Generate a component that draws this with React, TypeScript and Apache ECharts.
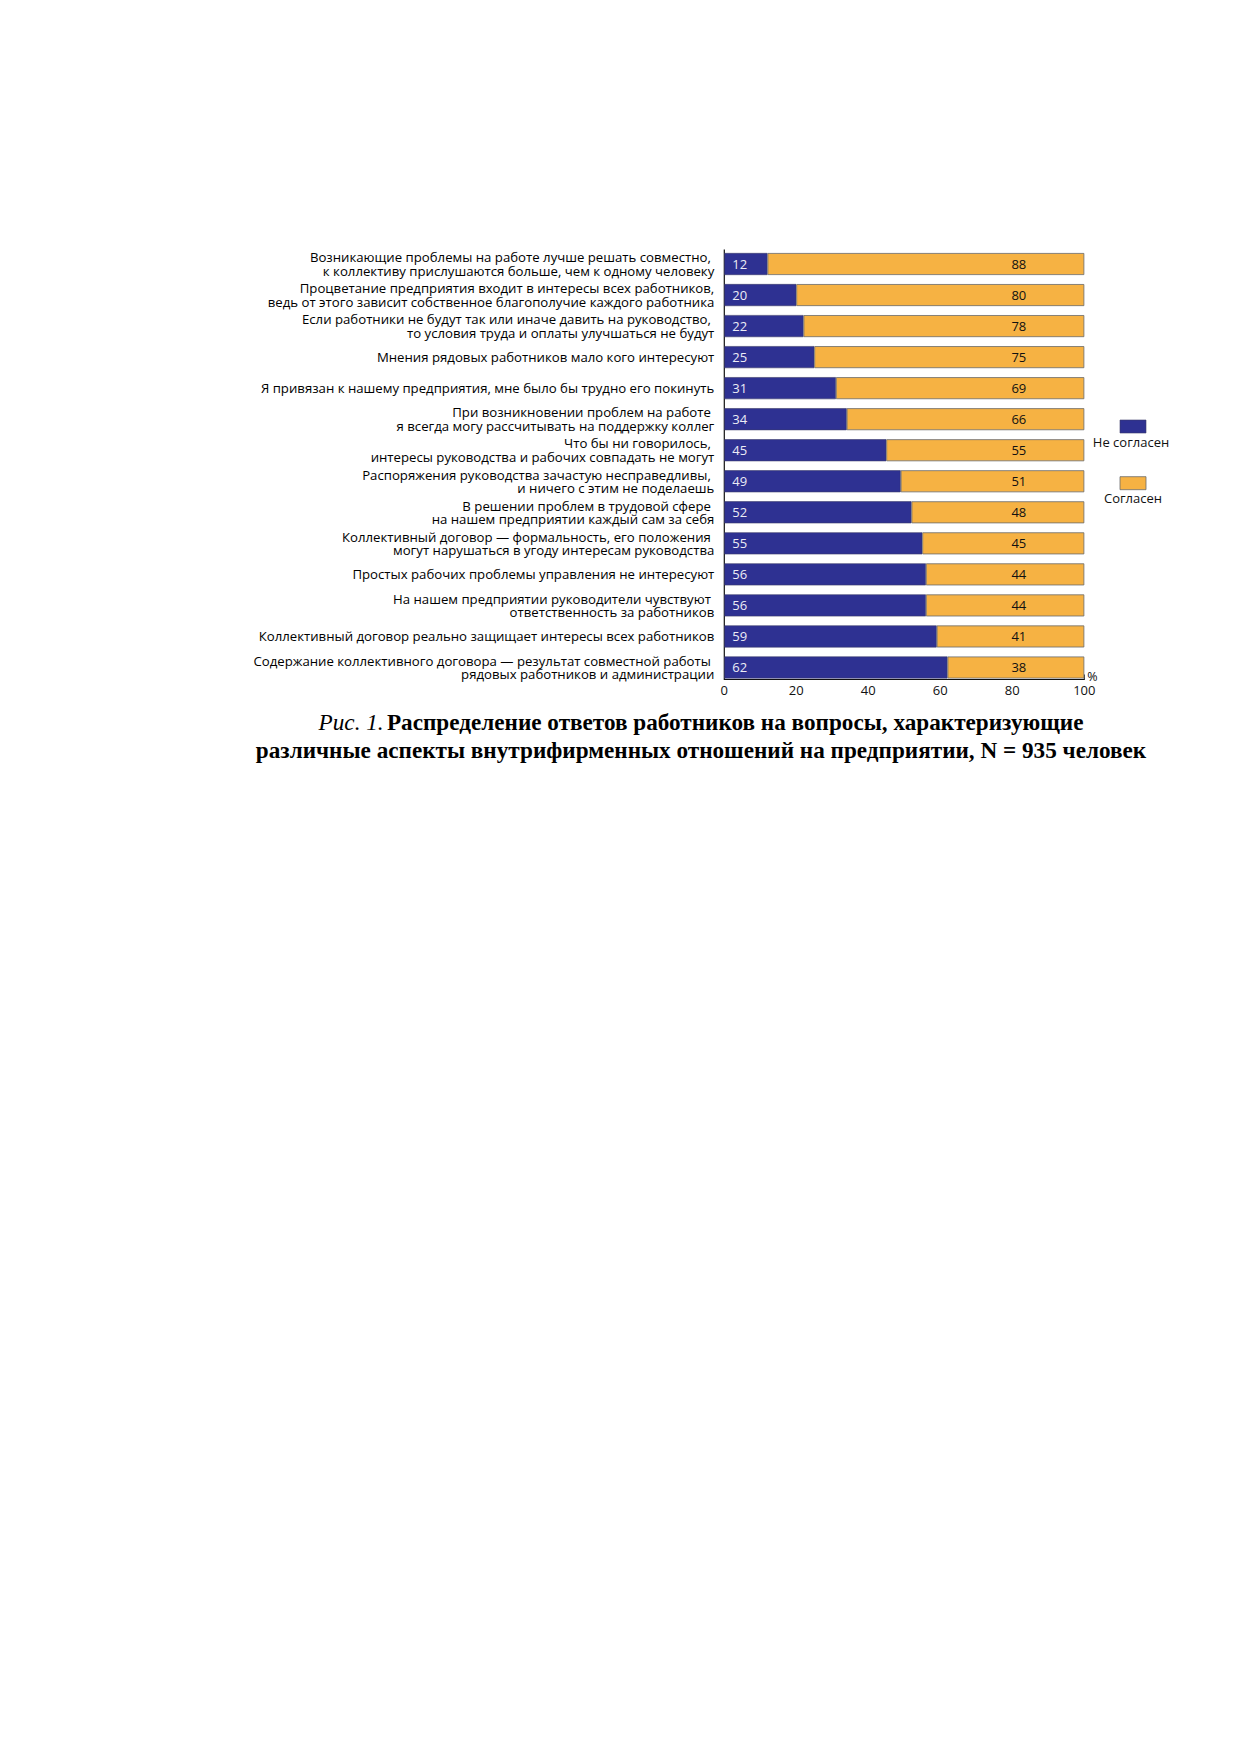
import React, { useEffect, useRef } from "react";
import * as echarts from "echarts";

const categories = [
  "Возникающие проблемы на работе лучше решать совместно, \nк коллективу прислушаются больше, чем к одному человеку",
  "Процветание предприятия входит в интересы всех работников,\nведь от этого зависит собственное благополучие каждого работника",
  "Если работники не будут так или иначе давить на руководство, \nто условия труда и оплаты улучшаться не будут",
  "Мнения рядовых работников мало кого интересуют",
  "Я привязан к нашему предприятия, мне было бы трудно его покинуть",
  "При возникновении проблем на работе \nя всегда могу рассчитывать на поддержку коллег",
  "Что бы ни говорилось, \nинтересы руководства и рабочих совпадать не могут",
  "Распоряжения руководства зачастую несправедливы, \nи ничего с этим не поделаешь",
  "В решении проблем в трудовой сфере \nна нашем предприятии каждый сам за себя",
  "Коллективный договор — формальность, его положения \nмогут нарушаться в угоду интересам руководства",
  "Простых рабочих проблемы управления не интересуют",
  "На нашем предприятии руководители чувствуют \nответственность за работников",
  "Коллективный договор реально защищает интересы всех работников",
  "Содержание коллективного договора — результат совместной работы \nрядовых работников и администрации",
];
const disagree = [12, 20, 22, 25, 31, 34, 45, 49, 52, 55, 56, 56, 59, 62];
const agree = [88, 80, 78, 75, 69, 66, 55, 51, 48, 45, 44, 44, 41, 38];
const seriesNames = ["Не согласен", "Согласен"];
const xTicks = [0, 20, 40, 60, 80, 100];
const axisUnit = "%";
const captionPrefix = "Рис. 1.";
const captionLine1 = "Распределение ответов работников на вопросы, характеризующие";
const captionLine2 = "различные аспекты внутрифирменных отношений на предприятии, N = 935 человек";

const BLUE = "#2E3192";
const ORANGE = "#F6B243";
const SANS = "'Open Sans', 'Noto Sans', sans-serif";
const SERIF = "'Liberation Serif', 'DejaVu Serif', serif";

export default function App() {
  const ref = useRef<HTMLDivElement>(null);
  useEffect(() => {
    if (!ref.current) return;
    const chart = echarts.init(ref.current, null, { renderer: "svg" });
    const gridLeft = 724.3;
    const gridRight = 1084.3;
    const gridTop = 248.5;
    const gridBottom = 683;
    const axisY = 679.5;
    const legendCx = 1133;
    chart.setOption({
      animation: false,
      backgroundColor: "#ffffff",
      grid: {
        left: gridLeft,
        top: gridTop,
        width: gridRight - gridLeft,
        height: gridBottom - gridTop,
        containLabel: false,
      },
      xAxis: {
        type: "value",
        min: xTicks[0],
        max: xTicks[xTicks.length - 1],
        interval: 20,
        offset: -(gridBottom - axisY),
        axisLine: { show: true, lineStyle: { color: "#111", width: 1.2 } },
        axisTick: { show: false },
        splitLine: { show: false },
        axisLabel: {
          fontFamily: SANS,
          fontSize: 13,
          color: "#111",
          margin: 4,
        },
      },
      yAxis: {
        type: "category",
        data: categories,
        inverse: true,
        axisLine: { show: false },
        axisTick: { show: false },
        axisLabel: {
          fontFamily: SANS,
          fontSize: 13.2,
          lineHeight: 13.5,
          color: "#000",
          align: "right",
          margin: 10,
          padding: [0, 0, 3, 0],
        },
      },
      series: [
        {
          name: seriesNames[0],
          type: "bar",
          stack: "total",
          data: disagree,
          barWidth: 22,
          itemStyle: { color: BLUE, borderColor: "#3a3a6a", borderWidth: 0.6 },
          label: {
            show: true,
            position: "insideLeft",
            distance: 8,
            color: "#ececf6",
            fontFamily: SANS,
            fontSize: 13,
          },
        },
        {
          name: seriesNames[1],
          type: "bar",
          stack: "total",
          data: agree,
          barWidth: 22,
          itemStyle: { color: ORANGE, borderColor: "#6a6a6a", borderWidth: 0.8 },
          label: {
            show: true,
            position: "insideRight",
            distance: 58,
            color: "#111",
            fontFamily: SANS,
            fontSize: 13,
          },
        },
      ],
      graphic: [
        {
          type: "line",
          shape: { x1: gridLeft, y1: gridTop + 1, x2: gridLeft, y2: axisY },
          style: { stroke: "#111", lineWidth: 1.2 },
        },
        {
          type: "line",
          shape: { x1: gridRight, y1: axisY - 5, x2: gridRight, y2: axisY },
          style: { stroke: "#111", lineWidth: 1 },
        },
        {
          type: "text",
          x: gridRight + 3,
          y: axisY - 3,
          style: {
            text: axisUnit,
            fontFamily: SANS,
            fontSize: 12.5,
            fill: "#111",
            align: "left",
            verticalAlign: "middle",
          },
        },
        {
          type: "rect",
          shape: { x: 1120, y: 420, width: 26, height: 13 },
          style: { fill: BLUE, stroke: "#3a3a6a", lineWidth: 0.6 },
        },
        {
          type: "text",
          x: legendCx - 2,
          y: 442.3,
          style: {
            text: seriesNames[0],
            fontFamily: SANS,
            fontSize: 13,
            fill: "#111",
            align: "center",
            verticalAlign: "middle",
          },
        },
        {
          type: "rect",
          shape: { x: 1120, y: 476.7, width: 26, height: 13 },
          style: { fill: ORANGE, stroke: "#6a6a6a", lineWidth: 0.8 },
        },
        {
          type: "text",
          x: legendCx,
          y: 498.3,
          style: {
            text: seriesNames[1],
            fontFamily: SANS,
            fontSize: 13,
            fill: "#111",
            align: "center",
            verticalAlign: "middle",
          },
        },
        {
          type: "text",
          x: 701,
          y: 736,
          style: {
            text:
              "{i|" + captionPrefix + "} {b|" + captionLine1 + "}\n{b|" + captionLine2 + "}",
            align: "center",
            verticalAlign: "middle",
            fill: "#000",
            rich: {
              i: {
                fontFamily: SERIF,
                fontStyle: "italic",
                fontSize: 23.2,
                lineHeight: 28,
                fill: "#000",
              },
              b: {
                fontFamily: SERIF,
                fontWeight: "bold",
                fontSize: 23.2,
                lineHeight: 28,
                fill: "#000",
              },
            },
          },
        },
      ],
    });
    return () => chart.dispose();
  }, []);
  return (
    <div
      ref={ref}
      style={{ position: "absolute", left: 0, top: 0, width: 1239, height: 1752 }}
    />
  );
}
